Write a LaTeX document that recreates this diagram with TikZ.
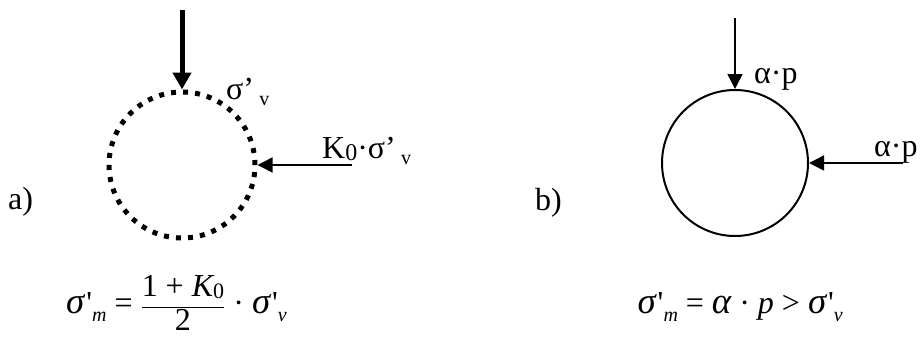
\documentclass[tikz,border=0pt]{standalone}
\usepackage{fontspec}
\setmainfont{Liberation Serif}
\usetikzlibrary{arrows.meta}
\newcommand{\lowsub}[1]{\raisebox{-8pt}{\fontsize{20}{20}\selectfont #1}}
\newcommand{\labsub}[1]{\raisebox{-6pt}{\fontsize{20}{20}\selectfont #1}}
\newcommand{\bigit}[1]{\scalebox{1.15}{\itshape #1}}
\newcommand{\prm}{\kern2pt\textquotesingle}
\begin{document}
\begin{tikzpicture}[
  x=1pt, y=-1pt,
  font=\fontsize{32}{38}\selectfont,
  lbl/.style={inner sep=0pt, anchor=base west},
  formula/.style={inner sep=0pt, anchor=base east},
  dashring/.style={draw, circle, line width=5pt, dash pattern=on 5pt off 7.07pt, minimum size=146pt, inner sep=0pt},
  ring/.style={draw, circle, line width=2pt, minimum size=146pt, inner sep=0pt},
  push/.style={line width=1.5pt, -{Triangle[length=15pt,width=15pt]}},
  bigpush/.style={line width=5pt, -{Triangle[length=17pt,width=18pt]}}
]
  \useasboundingbox (0,0) rectangle (923,337);
  % a) before loading
  \node[dashring] (ca) at (182,165) {};
  \coordinate (ta) at (182,10);
  \coordinate (sa) at (352,165);
  \draw[bigpush] (ta) -- (ca.north);
  \draw[push] (sa) -- (ca.east);
  \node[lbl] (va) at (226,99) {σ’\,\labsub{v}};
  \node[lbl] (ka) at (322,158) {K\raisebox{-2pt}{\fontsize{24}{24}\selectfont 0}·σ’\,\labsub{v}};
  \node[lbl] (la) at (8,209) {a)};
  \node[formula] (fa) at (287,313)
    {\bigit{σ}\prm\lowsub{\itshape m} = $\displaystyle\frac{\mbox{1 + {\itshape K}\raisebox{-2pt}{\fontsize{22}{22}\selectfont 0}}}{\mbox{2}}$ · \bigit{σ}\prm\lowsub{\itshape v}};
  % b) after loading
  \node[ring] (cb) at (735,163) {};
  \coordinate (tb) at (735,18);
  \coordinate (sb) at (903,163);
  \draw[push] (tb) -- (cb.north);
  \draw[push] (sb) -- (cb.east);
  \node[lbl] (pb) at (754,84) {α·p};
  \node[lbl] (qb) at (874,156) {α·p};
  \node[lbl] (lb) at (535,210) {b)};
  \node[formula] (fb) at (843,313)
    {\bigit{σ}\prm\lowsub{\itshape m} = \bigit{α} · {\itshape p} > \bigit{σ}\prm\lowsub{\itshape v}};
\end{tikzpicture}
\end{document}
